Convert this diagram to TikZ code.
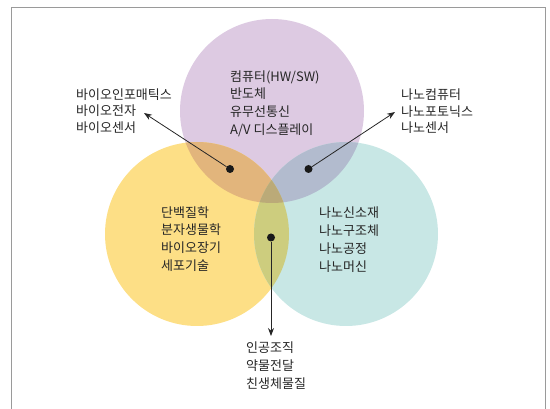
\documentclass[tikz,border=0pt]{standalone}
\usepackage{fontspec}
\newfontfamily\kr{Noto Sans CJK KR}
\usetikzlibrary{arrows.meta}
\definecolor{cP}{HTML}{DDCAE2}
\definecolor{cY}{HTML}{FDDF86}
\definecolor{cT}{HTML}{C8E7E5}
\definecolor{cPY}{HTML}{E2B57C}
\definecolor{cPT}{HTML}{B2BBCE}
\definecolor{cYT}{HTML}{CDCD7E}
\definecolor{cPYT}{HTML}{BBAA78}
\definecolor{frame}{HTML}{9A9A9A}
\tikzset{
  lbl/.style={font=\kr\fontsize{13}{17.6}\selectfont, align=left, inner sep=0pt, anchor=west, text=black!85},
  dot/.style={circle, fill=black!90, inner sep=0pt, minimum size=8pt},
  arr/.style={draw=black!85, line width=0.8pt, -{Stealth[length=8pt,width=6pt]}}
}
\begin{document}
\begin{tikzpicture}[x=1pt,y=-1pt]
\useasboundingbox (0,0) rectangle (550,409);
\coordinate (P) at (272,111);
\coordinate (Y) at (197,234);
\coordinate (T) at (346,234);
% circles
\fill[cP] (P) circle (92pt);
\fill[cY] (Y) circle (92pt);
\fill[cT] (T) circle (92pt);
\begin{scope}\clip (P) circle (92pt); \fill[cPY] (Y) circle (92pt); \end{scope}
\begin{scope}\clip (P) circle (92pt); \fill[cPT] (T) circle (92pt); \end{scope}
\begin{scope}\clip (Y) circle (92pt); \fill[cYT] (T) circle (92pt); \end{scope}
\begin{scope}\clip (P) circle (92pt); \clip (Y) circle (92pt); \fill[cPYT] (T) circle (92pt); \end{scope}
% frame
\draw[frame, line width=1pt] (11,409) -- (11,7.5) -- (545,7.5) -- (545,409);
% texts
\node[lbl] (top) at (230,103.5) {컴퓨터(HW/SW)\\반도체\\유무선통신\\A/V 디스플레이};
\node[lbl, font=\kr\fontsize{13}{16.5}\selectfont] (left) at (76,111) {바이오인포매틱스\\바이오전자\\바이오센서};
\node[lbl, font=\kr\fontsize{13}{16.5}\selectfont] (right) at (401,111.5) {나노컴퓨터\\나노포토닉스\\나노센서};
\node[lbl, font=\kr\fontsize{13}{17.8}\selectfont] (yel) at (161,239) {단백질학\\분자생물학\\바이오장기\\세포기술};
\node[lbl, font=\kr\fontsize{13}{17.8}\selectfont] (teal) at (319,239.5) {나노신소재\\나노구조체\\나노공정\\나노머신};
\node[lbl, font=\kr\fontsize{13}{18}\selectfont] (bot) at (246,366) {인공조직\\약물전달\\친생체물질};
% dots and arrows
\node[dot] (dL) at (230,169) {};
\node[dot] (dR) at (308.5,169) {};
\node[dot] (dB) at (271,237.5) {};
\coordinate (eL) at (144,113);
\coordinate (eR) at (395,112);
\coordinate (eB) at (271,336);
\draw[arr] (dL) -- (eL);
\draw[arr] (dR) -- (eR);
\draw[arr] (dB) -- (eB);
\end{tikzpicture}
\end{document}
